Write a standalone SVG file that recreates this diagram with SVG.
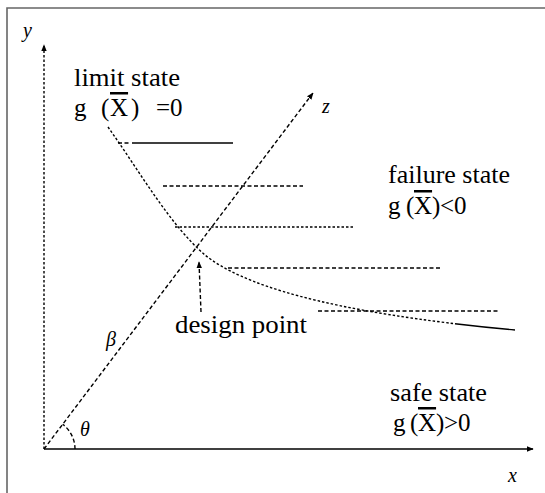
<svg xmlns="http://www.w3.org/2000/svg" width="545" height="493" viewBox="0 0 545 493">
<style>
text{font-family:"Liberation Serif","Times New Roman",serif;fill:#000}
.lbl{font-size:25px}
.sym{font-size:20px;font-style:italic}
.ln{fill:none;stroke:#000;stroke-width:1.4}
.dash{stroke-dasharray:4,2.5}
.dot{stroke-dasharray:2.5,2}
</style>
<defs>
<marker id="ah" viewBox="0 0 10 10" refX="9" refY="5" markerWidth="7" markerHeight="7" orient="auto-start-reverse" markerUnits="userSpaceOnUse">
<path d="M0,1 L10,5 L0,9 z" fill="#000"/>
</marker>
</defs>
<rect width="545" height="493" fill="#fff"/>
<g id="frame">
<path d="M7,493 V8 H545" fill="none" stroke="#666" stroke-width="1.6"/>
</g>
<g id="connectors">
<line id="y-axis" class="ln dot" x1="44" y1="449" x2="44" y2="45" stroke-width="1.8" marker-end="url(#ah)"/>
<line id="x-axis" class="ln" x1="44" y1="449" x2="533" y2="449" stroke-width="2" marker-end="url(#ah)"/>
<line id="beta-line" class="ln dash" x1="44" y1="449" x2="313" y2="93" marker-end="url(#ah)"/>
<path id="limit-curve" class="ln" d="M108,127 C140,172 170,225 205,255 C240,283 320,312 515,330" stroke-width="1.6" stroke-dasharray="2.5,2 2.5,2 2.5,2 2.5,2 2.5,2 2.5,2 2.5,2 2.5,2 2.5,2 2.5,2 2.5,2 2.5,2 2.5,2 2.5,2 2.5,2 2.5,2 2.5,2 2.5,2 2.5,2 2.5,2 2.5,2 2.5,2 2.5,2 2.5,2 2.5,2 2.5,2 2.5,2 2.5,2 2.5,2 2.5,2 2.5,2 2.5,2 2.5,2 2.5,2 2.5,2 2.5,2 2.5,2 2.5,2 2.5,2 2.5,2 2.5,2 2.5,2 2.5,2 2.5,2 2.5,2 2.5,2 2.5,2 2.5,2 2.5,2 2.5,2 2.5,2 2.5,2 2.5,2 2.5,2 2.5,2 2.5,2 2.5,2 2.5,2 2.5,2 2.5,2 2.5,2 2.5,2 2.5,2 2.5,2 2.5,2 2.5,2 2.5,2 2.5,2 2.5,2 2.5,2 2.5,2 2.5,2 2.5,2 2.5,2 2.5,2 2.5,2 2.5,2 2.5,2 2.5,2 2.5,2 2.5,2 2.5,2 2.5,2 2.5,2 2.5,2 2.5,2 2.5,2 2.5,2 2.5,2 2.5,2 2.5,2 2.5,2 2.5,2 2.5,2 200,0"/>
<line class="ln dash" x1="118" y1="143" x2="130" y2="143"/>
<line class="ln" x1="132" y1="143" x2="233" y2="143"/>
<line class="ln dash" x1="163" y1="186" x2="303" y2="186"/>
<line class="ln dot" x1="175" y1="227" x2="353" y2="227"/>
<line class="ln dash" x1="228" y1="268" x2="440" y2="268"/>
<line class="ln dash" x1="318" y1="311" x2="500" y2="311"/>
<line id="dp-arrow" class="ln dash" x1="201" y1="312" x2="199" y2="262" marker-end="url(#ah)"/>
<path id="theta-arc" class="ln dash" d="M75,449 A31,31 0 0 0 62.7,424.3"/>
</g>
<g id="axis-labels">
<text class="sym" x="23" y="37">y</text>
<text class="sym" x="508" y="482">x</text>
<text class="sym" x="322" y="113">z</text>
<text class="sym" x="106" y="346">β</text>
<text class="sym" x="80" y="436">θ</text>
</g>
<g id="limit-state">
<text class="lbl" x="74" y="86" textLength="106" lengthAdjust="spacingAndGlyphs">limit state</text>
<text class="lbl" x="74" y="116">g<tspan x="101">(</tspan><tspan x="110" text-decoration="overline">X</tspan><tspan x="131">)</tspan><tspan x="156">=0</tspan></text>
</g>
<g id="failure-state">
<text class="lbl" x="388" y="183" textLength="122" lengthAdjust="spacingAndGlyphs">failure state</text>
<text class="lbl" x="388" y="214">g<tspan x="406">(</tspan><tspan x="414" text-decoration="overline">X</tspan><tspan x="432">)</tspan><tspan x="440">&lt;0</tspan></text>
</g>
<g id="safe-state">
<text class="lbl" x="390" y="401" textLength="97" lengthAdjust="spacingAndGlyphs">safe state</text>
<text class="lbl" x="393" y="431">g<tspan x="410">(</tspan><tspan x="418" text-decoration="overline">X</tspan><tspan x="436">)</tspan><tspan x="444">&gt;0</tspan></text>
</g>
<g id="design-point">
<text class="lbl" x="175" y="333" textLength="132" lengthAdjust="spacingAndGlyphs">design point</text>
</g>
</svg>
